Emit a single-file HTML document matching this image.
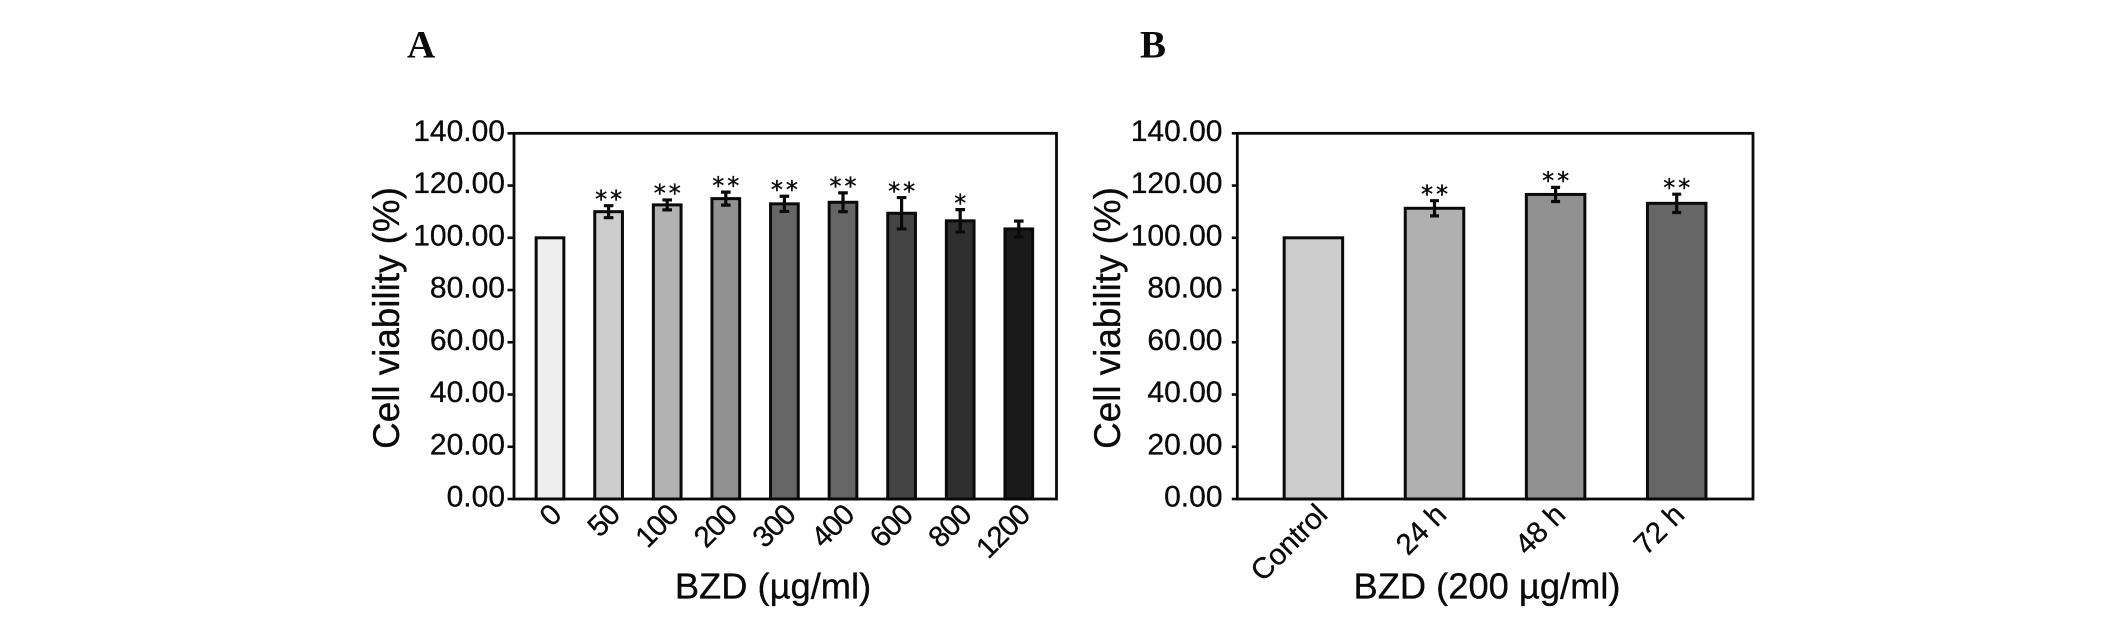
<!DOCTYPE html>
<html lang="en">
<head>
<meta charset="utf-8">
<title>Cell viability charts</title>
<style>
html,body{margin:0;padding:0;background:#fff;}
body{width:2126px;height:632px;overflow:hidden;}
svg{display:block;}
text{font-family:"Liberation Sans",Arial,sans-serif;fill:#0a0a0a;}
.panel-letter{font-family:"Liberation Serif","Times New Roman",serif;font-weight:bold;font-size:39px;}
.tick{font-size:30px;stroke:#0a0a0a;stroke-width:.3px;}
.title{font-size:36.3px;stroke:#0a0a0a;stroke-width:.3px;}
.y-title{font-size:36.8px;stroke:#0a0a0a;stroke-width:.3px;}
.star{font-family:"DejaVu Sans",sans-serif;font-size:24px;letter-spacing:3px;stroke:#0a0a0a;stroke-width:.4px;}
</style>
</head>
<body>
<svg id="figure" xmlns="http://www.w3.org/2000/svg" width="2126" height="632" viewBox="0 0 2126 632">
  <rect x="0" y="0" width="2126" height="632" fill="#ffffff"/>
  <text class="panel-letter" x="407" y="57.5">A</text>
  <text class="panel-letter" x="1140" y="57.5">B</text>
  <text class="title" x="773" y="598.5" text-anchor="middle">BZD (µg/ml)</text>
  <text class="title" x="1487" y="598.5" text-anchor="middle">BZD (200 µg/ml)</text>
  <text class="y-title" text-anchor="middle" transform="translate(399,318) rotate(-90)">Cell viability (%)</text>
  <text class="y-title" text-anchor="middle" transform="translate(1120,318) rotate(-90)">Cell viability (%)</text>
</svg>
<script>
const yTickValues = [0, 20, 40, 60, 80, 100, 120, 140];

const categoriesA = ['0', '50', '100', '200', '300', '400', '600', '800', '1200'];
const valuesA = [100, 110, 112.6, 115, 113, 113.6, 109.4, 106.5, 103.4];
const errorsA = [0, 2.3, 1.9, 2.5, 2.9, 3.6, 6, 4.3, 3];
const starsA = ['', '**', '**', '**', '**', '**', '**', '*', ''];
const greysA = ['#eeeeee', '#cccccc', '#b2b2b2', '#919191', '#666666', '#666666', '#444444', '#2f2f2f', '#1a1a1a'];

const categoriesB = ['Control', '24 h', '48 h', '72 h'];
const valuesB = [100, 111.3, 116.6, 113.2];
const errorsB = [0, 2.9, 2.7, 3.5];
const starsB = ['', '**', '**', '**'];
const greysB = ['#cccccc', '#b0b0b0', '#919191', '#666666'];

const svgNS = 'http://www.w3.org/2000/svg';
const figure = document.getElementById('figure');

function make(tag, attrs, parent) {
  const el = document.createElementNS(svgNS, tag);
  for (const k in attrs) el.setAttribute(k, attrs[k]);
  parent.appendChild(el);
  return el;
}

// y axis is shared by both panels
function yScale(v) {
  return 499 - v * 2.612;
}

function drawPanel(id, cfg, categories, values, errors, stars, greys) {
  const xScale = i => cfg.firstCenter + i * cfg.step;
  const labelX = i => cfg.labelFirst + i * cfg.labelStep;

  const group = make('g', {}, figure);
  
  

  values.forEach((v, i) => {
    const cx = xScale(i);
    const bar = make('rect', {
      x: cx - cfg.barWidth / 2, y: yScale(v),
      width: cfg.barWidth, height: yScale(0) - yScale(v),
      fill: greys[i], stroke: '#0a0a0a', 'stroke-width': 3
    }, group);
    
    

    if (errors[i] > 0) {
      const top = yScale(v + errors[i]);
      const bottom = yScale(v - errors[i]);
      const err = make('path', {
        d: 'M' + (cx - cfg.cap) + ' ' + top + 'H' + (cx + cfg.cap) +
           'M' + cx + ' ' + top + 'V' + bottom +
           'M' + (cx - cfg.cap) + ' ' + bottom + 'H' + (cx + cfg.cap),
        fill: 'none', stroke: '#0a0a0a', 'stroke-width': 3.2
      }, group);
      
      
    }

    if (stars[i]) {
      const star = make('text', {
        class: 'star', x: cx + 1.5, y: yScale(v + errors[i]) + 1.7, 'text-anchor': 'middle'
      }, group);
      star.textContent = stars[i];
      
      
    }

    const label = make('text', {
      class: 'tick', 'text-anchor': 'end',
      style: 'font-size:' + cfg.labelSize + 'px;letter-spacing:' + cfg.labelTracking + 'px',
      transform: 'translate(' + labelX(i) + ',' + cfg.labelY + ') rotate(-45)'
    }, group);
    label.textContent = categories[i];
    
    
  });

  const frame = make('rect', {
    x: cfg.left, y: yScale(140), width: cfg.right - cfg.left, height: yScale(0) - yScale(140),
    fill: 'none', stroke: '#0a0a0a', 'stroke-width': 2.8
  }, group);
  
  

  yTickValues.forEach(t => {
    const tick = make('line', {
      x1: cfg.left - cfg.tickLen, x2: cfg.left, y1: yScale(t), y2: yScale(t),
      stroke: '#0a0a0a', 'stroke-width': 2.6
    }, group);
    
    

    const label = make('text', {
      class: 'tick', x: cfg.labelRight, y: yScale(t) + 7.5, 'text-anchor': 'end'
    }, group);
    label.textContent = t.toFixed(2);
    
    
  });
}

drawPanel('a', { left: 514, right: 1056.5, firstCenter: 550, step: 58.6, barWidth: 27.7, cap: 4.8, tickLen: 6.5, labelRight: 505,
  labelFirst: 562.5, labelStep: 58.6, labelY: 517, labelSize: 29.5, labelTracking: -1.2 },
  categoriesA, valuesA, errorsA, starsA, greysA);
drawPanel('b', { left: 1237.3, right: 1753, firstCenter: 1313.4, step: 121.1, barWidth: 58.5, cap: 4.5, tickLen: 5.5, labelRight: 1222.5,
  labelFirst: 1329, labelStep: 119, labelY: 516.5, labelSize: 29.5, labelTracking: -0.2 },
  categoriesB, valuesB, errorsB, starsB, greysB);
</script>
</body>
</html>
